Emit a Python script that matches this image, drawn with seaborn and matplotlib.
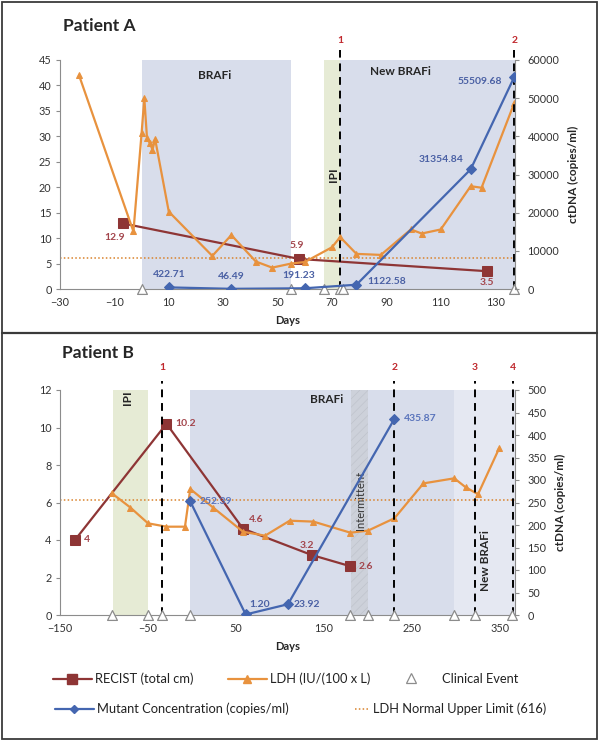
import matplotlib
matplotlib.use("Agg")
import matplotlib.pyplot as plt
import matplotlib.transforms as mtransforms
from matplotlib.lines import Line2D
from matplotlib.patches import Rectangle
import seaborn as sns

# ---------------- Patient A ----------------
a_ldh_days = [-23, -3, 0, 1, 2, 3, 4, 5, 10, 26, 33, 42, 48, 55, 60, 70, 73, 79, 88, 99, 103, 110, 121, 125, 137]
a_ldh_vals = [42.0, 11.3, 30.6, 37.5, 29.6, 28.7, 27.4, 29.4, 15.2, 6.5, 10.6, 5.4, 4.2, 5.0, 5.3, 8.2, 10.2, 6.9, 6.7, 11.7, 10.9, 11.7, 20.2, 19.9, 36.5]
a_recist_days = [-7, 58, 127]
a_recist_vals = [12.9, 5.9, 3.5]
a_mut_days = [10, 33, 60, 79, 121, 137]
a_mut_vals = [422.71, 46.49, 191.23, 1122.58, 31354.84, 55509.68]
a_events = [0, 55, 67, 73, 74, 137]
a_progression = [73, 137]
a_prog_labels = ["1", "2"]

# ---------------- Patient B ----------------
b_ldh_days = [-91, -70, -50, -29, -8, -2, 24, 58, 83, 111, 138, 180, 200, 230, 263, 298, 311, 325, 349]
b_ldh_vals = [6.49, 5.73, 4.89, 4.71, 4.71, 6.72, 5.73, 4.44, 4.23, 5.03, 4.98, 4.39, 4.50, 5.16, 7.02, 7.29, 6.81, 6.44, 8.89]
b_recist_days = [-133, -29, 58, 136, 180]
b_recist_vals = [4, 10.2, 4.6, 3.2, 2.6]
b_mut_days = [-2, 61, 109, 230]
b_mut_vals = [252.39, 1.20, 23.92, 435.87]
b_mut_text = ["252.39", "1.20", "23.92", "435.87"]
b_events = [-91, -50, -34, -2, 180, 200, 230, 298, 321, 364]
b_progression = [-34, 230, 321, 365]
b_prog_labels = ["1", "2", "3", "4"]

ldh_limit = 6.16  # 616 IU/L / 100

RED = "#8E3535"
ORANGE = "#E8923E"
BLUE = "#4466B0"
RED_TXT = "#A3454C"
BLUE_TXT = "#4A60A4"
GRAY = "#8C8C8C"
SPAN_BLUE = "#D8DDEB"
SPAN_LIGHT = "#E5E8F2"
SPAN_GREEN = "#E6EBD5"

sns.set_style("white")
plt.rcParams["font.family"] = ["Lato", "DejaVu Sans"]
plt.rcParams["hatch.linewidth"] = 0.5

fig = plt.figure(figsize=(6.02, 7.43), dpi=100)


def px_box(x0, y0, x1, y1):
    return [x0 / 602, 1 - y1 / 743, (x1 - x0) / 602, (y1 - y0) / 743]


def base_series(ax, ax2, ldh_d, ldh_v, rec_d, rec_v, mut_d, mut_v, events):
    ax.axhline(ldh_limit, color="#D9822B", ls=(0, (1, 1.5)), lw=1.1, zorder=2)
    sns.lineplot(x=rec_d, y=rec_v, ax=ax, color=RED, marker="s", markersize=7,
                 markeredgecolor=RED, linewidth=1.6, estimator=None, sort=False, zorder=3)
    sns.lineplot(x=ldh_d, y=ldh_v, ax=ax, color=ORANGE, marker="^", markersize=4.5,
                 markeredgecolor=ORANGE, linewidth=1.6, estimator=None, sort=False, zorder=3)
    sns.scatterplot(x=events, y=[0] * len(events), ax=ax, marker="^", s=50, color="white",
                    edgecolor=GRAY, linewidth=0.9, clip_on=False, zorder=6)
    sns.lineplot(x=mut_d, y=mut_v, ax=ax2, color=BLUE, marker="D", markersize=5,
                 markeredgecolor=BLUE, linewidth=1.6, estimator=None, sort=False, zorder=3)


def style(ax, ax2):
    for sp in ["top", "right"]:
        ax.spines[sp].set_visible(False)
    for sp in ["top", "left", "bottom"]:
        ax2.spines[sp].set_visible(False)
    for sp in [ax.spines["left"], ax.spines["bottom"], ax2.spines["right"]]:
        sp.set_color(GRAY)
        sp.set_linewidth(0.8)
    ax.tick_params(axis="both", direction="out", length=3, width=0.8, color=GRAY,
                   labelsize=7.8, labelcolor="#333333", pad=3)
    ax2.tick_params(axis="y", direction="out", length=3, width=0.8, color=GRAY,
                    labelsize=7.8, labelcolor="#333333", pad=6)
    ax.set_xlabel("Days", fontsize=8, fontweight="bold", labelpad=5)
    ax.set_ylabel("")
    ax2.set_ylabel("ctDNA (copies/ml)", fontsize=8.5, fontweight="bold", labelpad=6)
    ax.set_zorder(1)
    ax2.set_zorder(2)
    ax.patch.set_visible(False)


def progression(ax, days, labels, top_frac):
    trans = mtransforms.blended_transform_factory(ax.transData, ax.transAxes)
    for d, lab in zip(days, labels):
        ax.axvline(d, ymin=0, ymax=1.042, color="black", ls=(0, (4, 3)), lw=1.4,
                   clip_on=False, zorder=4)
        ax.text(d, top_frac, lab, transform=trans, ha="center", va="center",
                color="#C0282D", fontsize=7.5, fontweight="bold")


def label(ax, txt, x, y, dx, dy, color, ha="center"):
    ax.annotate(txt, (x, y), xytext=(dx, dy), textcoords="offset points", ha=ha,
                va="center", color=color, fontsize=7.5, fontweight="bold", zorder=7)


# ================= Panel A =================
axA = fig.add_axes(px_box(60, 60, 515, 289))
axA2 = axA.twinx()
axA.set_xlim(-30, 137.3)
axA.set_ylim(0, 45)
axA2.set_ylim(0, 60000)
axA.set_xticks(range(-30, 131, 20))
axA.set_yticks(range(0, 46, 5))
axA2.set_yticks(range(0, 60001, 10000))

axA.axvspan(0, 55, color=SPAN_BLUE, lw=0, zorder=0)
axA.axvspan(67, 73, color=SPAN_GREEN, lw=0, zorder=0)
axA.axvspan(73, 137.3, color=SPAN_BLUE, lw=0, zorder=0)

base_series(axA, axA2, a_ldh_days, a_ldh_vals, a_recist_days, a_recist_vals,
            a_mut_days, a_mut_vals, a_events)
style(axA, axA2)
progression(axA, a_progression, a_prog_labels, 1.083)

axA.text(27, 42, "BRAFi", ha="center", va="center", fontsize=8.5, fontweight="bold")
axA.text(95, 42.8, "New BRAFi", ha="center", va="center", fontsize=8.5, fontweight="bold")
axA.text(70.5, 22.4, "IPI", ha="center", va="center", rotation=90, fontsize=8.5, fontweight="bold")

rec_off_a = [(-5.5, -10, "center"), (-1.5, 10, "center"), (0, -8.5, "center")]
for d, v, (dx, dy, ha) in zip(a_recist_days, a_recist_vals, rec_off_a):
    label(axA, f"{v}", d, v, dx, dy, RED_TXT, ha)
mut_off_a = [(0, 9.5, "center"), (0, 9, "center"), (-4.5, 9.5, "center"),
             (8, 2, "left"), (-5, 7, "right"), (-9, -3, "right")]
for d, v, (dx, dy, ha) in zip(a_mut_days, a_mut_vals, mut_off_a):
    label(axA2, f"{v:.2f}", d, v, dx, dy, BLUE_TXT, ha)

fig.text(63 / 602, 1 - 26 / 743, "Patient A", fontsize=12.5, fontweight="bold", va="center")

# ================= Panel B =================
axB = fig.add_axes(px_box(60, 390, 515, 615))
axB2 = axB.twinx()
axB.set_xlim(-150, 367)
axB.set_ylim(0, 12)
axB2.set_ylim(0, 500)
axB.set_xticks(range(-150, 351, 100))
axB.set_yticks(range(0, 13, 2))
axB2.set_yticks(range(0, 501, 50))

axB.axvspan(-89.5, -50, color=SPAN_GREEN, lw=0, zorder=0)
axB.axvspan(-2, 298, color=SPAN_BLUE, lw=0, zorder=0)
axB.axvspan(298, 367, color=SPAN_LIGHT, lw=0, zorder=0)
axB.axvspan(180.5, 200.5, facecolor="#CDD1DA", edgecolor="#BFC3CC", hatch="////",
            lw=0, zorder=0)

base_series(axB, axB2, b_ldh_days, b_ldh_vals, b_recist_days, b_recist_vals,
            b_mut_days, b_mut_vals, b_events)
style(axB, axB2)
progression(axB, b_progression, b_prog_labels, 1.10)

axB.text(153, 11.5, "BRAFi", ha="center", va="center", fontsize=8.5, fontweight="bold")
axB.text(-73, 11.6, "IPI", ha="center", va="center", rotation=90, fontsize=8.5, fontweight="bold")
axB.text(191, 6.1, "Intermittent", ha="center", va="center", rotation=90, fontsize=8,
         color="#333333")
axB.text(333, 2.9, "New BRAFi", ha="center", va="center", rotation=90, fontsize=8.5,
         fontweight="bold")

rec_off_b = [(6.5, 0, "left"), (6, 0, "left"), (4.5, 6.5, "left"), (-3.5, 6.5, "center"),
             (6, 0, "left")]
for d, v, (dx, dy, ha) in zip(b_recist_days, b_recist_vals, rec_off_b):
    label(axB, f"{v:g}", d, v, dx, dy, RED_TXT, ha)
mut_off_b = [(6.5, 0, "left"), (2.5, 7, "left"), (4, 0, "left"), (6.5, 0, "left")]
mut_col_b = ["#5A74BC", BLUE_TXT, BLUE_TXT, "#5A74BC"]
for d, v, t, (dx, dy, ha), c in zip(b_mut_days, b_mut_vals, b_mut_text, mut_off_b, mut_col_b):
    label(axB2, t, d, v, dx, dy, c, ha)

fig.text(62 / 602, 1 - 353 / 743, "Patient B", fontsize=12.5, fontweight="bold", va="center")

# ================= Legend =================
h_recist = Line2D([], [], color=RED, marker="s", markersize=7, lw=1.6)
h_ldh = Line2D([], [], color=ORANGE, marker="^", markersize=6, lw=1.6)
h_event = Line2D([], [], color=GRAY, marker="^", markersize=7, markerfacecolor="white",
                 markeredgewidth=0.9, lw=0)
h_mut = Line2D([], [], color=BLUE, marker="D", markersize=4.5, lw=1.6)
h_lim = Line2D([], [], color="#D9822B", ls=(0, (1, 1.5)), lw=1.1)

leg_items = [
    (h_recist, "RECIST (total cm)", 53, 679, 3.0, 0.25),
    (h_ldh, "LDH (IU/(100 x L)", 228, 679, 3.0, 0.25),
    (h_event, "Clinical Event", 405, 679, 1.0, 1.9),
    (h_mut, "Mutant Concentration (copies/ml)", 55, 709, 3.0, 0.25),
    (h_lim, "LDH Normal Upper Limit (616)", 355, 709, 1.1, 0.3),
]
for h, lab, x, y, hl, pad in leg_items:
    fig.legend([h], [lab], loc="center left", bbox_to_anchor=(x / 602, 1 - y / 743),
               frameon=False, fontsize=9.3, handlelength=hl, handletextpad=pad,
               borderpad=0, borderaxespad=0, labelcolor="#222222")

# panel frames
fig.add_artist(Rectangle((2 / 602, 4 / 743), 595 / 602, 737 / 743, transform=fig.transFigure,
                         fill=False, lw=1.3, ec="#3A3A3A"))
fig.add_artist(Line2D([2 / 602, 597 / 602], [1 - 333 / 743] * 2, transform=fig.transFigure,
                      lw=1.6, color="#3A3A3A"))

fig.savefig("out.png", dpi=100)
